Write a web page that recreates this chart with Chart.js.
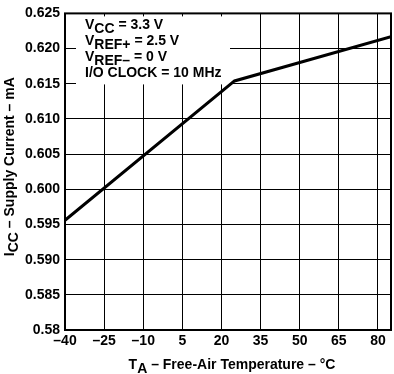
<!DOCTYPE html>
<html>
<head>
<meta charset="utf-8">
<script src="https://cdn.jsdelivr.net/npm/chart.js@4.4.1/dist/chart.umd.min.js"></script>
<style>
  body { margin: 0; background: #fff; }
  #wrap { width: 394px; height: 374px; }
</style>
</head>
<body>
<div id="wrap"><canvas id="grafico" width="394" height="374"></canvas></div>
<script>
// Datos
const temperaturas = [-40, 25, 85];
const corriente = [0.5956, 0.6154, 0.6217];
const xTicks = [-40, -25, -10, 5, 20, 35, 50, 65, 80];
const xTickLabels = ['–40', '–25', '–10', '5', '20', '35', '50', '65', '80'];
const yTicks = [0.58, 0.585, 0.59, 0.595, 0.6, 0.605, 0.61, 0.615, 0.62, 0.625];
const yTickLabels = ['0.58', '0.585', '0.590', '0.595', '0.600', '0.605', '0.610', '0.615', '0.620', '0.625'];

// Textos con subindices
const condiciones = [
  [{ t: 'V' }, { t: 'CC', sub: true }, { t: ' = 3.3 V' }],
  [{ t: 'V' }, { t: 'REF+', sub: true }, { t: ' = 2.5 V' }],
  [{ t: 'V' }, { t: 'REF–', sub: true }, { t: ' = 0 V' }],
  [{ t: 'I/O CLOCK = 10 MHz' }]
];
const tituloY = [{ t: 'I' }, { t: 'CC', sub: true }, { t: ' – Supply Current – mA' }];
const tituloX = [{ t: 'T' }, { t: 'A', sub: true }, { t: ' – Free-Air Temperature – °C' }];

const FUENTE = '"Liberation Sans", Arial, Helvetica, sans-serif';

function anchoRico(ctx, partes, size, subSize) {
  let w = 0;
  partes.forEach(p => {
    ctx.font = 'bold ' + (p.sub ? subSize : size) + 'px ' + FUENTE;
    w += ctx.measureText(p.t).width;
  });
  return w;
}

function textoRico(ctx, partes, x, y, size, subSize) {
  let cx = x;
  partes.forEach(p => {
    ctx.font = 'bold ' + (p.sub ? subSize : size) + 'px ' + FUENTE;
    ctx.fillText(p.t, cx, y + (p.sub ? 4 : 0));
    cx += ctx.measureText(p.t).width;
  });
}

const decoracion = {
  id: 'decoracion',
  beforeDatasetsDraw(chart) {
    const { ctx, chartArea: a } = chart;
    ctx.save();
    // caja de condiciones
    ctx.fillStyle = '#fff';
    ctx.fillRect(a.left + 11, a.top + 3, 154, 68);
    ctx.fillStyle = '#000';
    ctx.textAlign = 'left';
    ctx.textBaseline = 'alphabetic';
    condiciones.forEach((linea, i) => {
      textoRico(ctx, linea, a.left + 20, a.top + 16 + i * 16, 14, 14);
    });
    ctx.restore();
  },
  afterDraw(chart) {
    const { ctx, chartArea: a } = chart;
    ctx.save();
    ctx.strokeStyle = '#000';
    ctx.lineWidth = 2;
    ctx.strokeRect(a.left, a.top, a.right - a.left, a.bottom - a.top);
    ctx.fillStyle = '#000';
    ctx.textAlign = 'left';
    ctx.textBaseline = 'alphabetic';
    // titulo eje X
    const wx = anchoRico(ctx, tituloX, 14, 14);
    textoRico(ctx, tituloX, (a.left + a.right) / 2 + 4 - wx / 2, 369, 14, 14);
    // titulo eje Y
    const wy = anchoRico(ctx, tituloY, 14, 14);
    ctx.translate(14, (a.top + a.bottom) / 2 - 5);
    ctx.rotate(-Math.PI / 2);
    textoRico(ctx, tituloY, -wy / 2, 0, 14, 14);
    ctx.restore();
  }
};

new Chart(document.getElementById('grafico'), {
  type: 'line',
  data: {
    datasets: [{
      data: temperaturas.map((t, i) => ({ x: t, y: corriente[i] })),
      borderColor: '#000',
      borderWidth: 3,
      pointRadius: 0,
      tension: 0,
      fill: false
    }]
  },
  options: {
    responsive: false,
    animation: false,
    layout: { padding: { left: 0, right: 3, top: 5, bottom: 0 } },
    plugins: { legend: { display: false }, tooltip: { enabled: false } },
    scales: {
      x: {
        type: 'linear',
        min: -40,
        max: 85,
        afterBuildTicks: s => { s.ticks = xTicks.map(v => ({ value: v })); },
        afterFit: s => { s.height = 44; },
        grid: { color: '#000', lineWidth: 1, drawTicks: false },
        border: { display: false },
        ticks: {
          padding: 3,
          color: '#000',
          font: { family: FUENTE, size: 14, weight: 'bold' },
          maxRotation: 0,
          callback: (v, i) => xTickLabels[i]
        }
      },
      y: {
        type: 'linear',
        min: 0.58,
        max: 0.625,
        afterBuildTicks: s => { s.ticks = yTicks.map(v => ({ value: v })); },
        afterFit: s => { s.width = 65; },
        grid: { color: '#000', lineWidth: 1, drawTicks: false },
        border: { display: false },
        ticks: {
          padding: 5,
          color: '#000',
          font: { family: FUENTE, size: 14, weight: 'bold' },
          callback: (v, i) => yTickLabels[i]
        }
      }
    }
  },
  plugins: [decoracion]
});
</script>
</body>
</html>
